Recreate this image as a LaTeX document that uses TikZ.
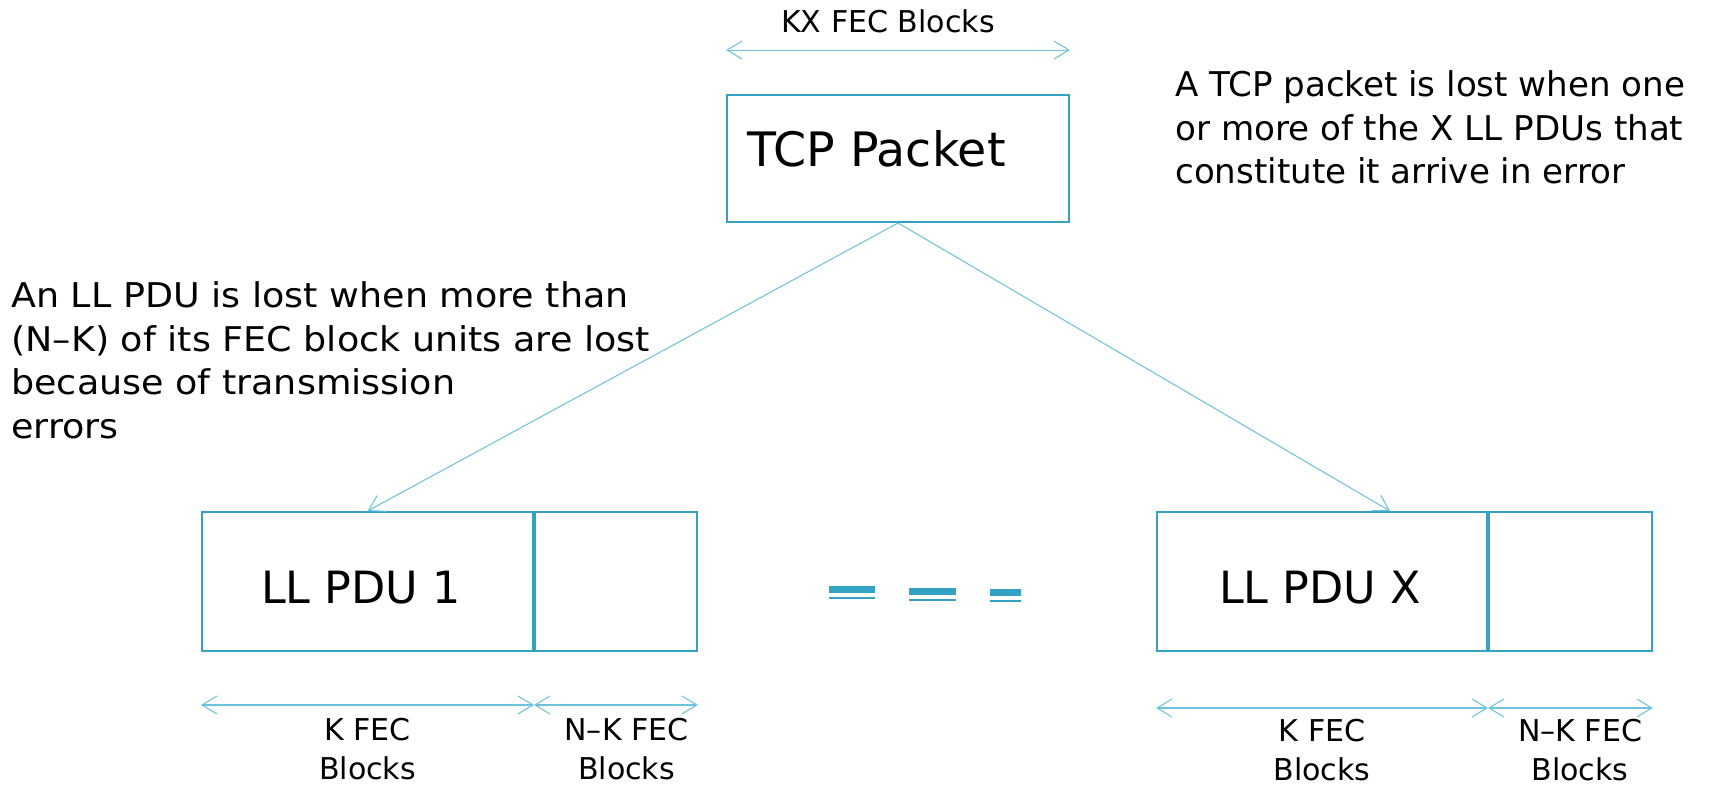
\documentclass[tikz,border=0pt]{standalone}
\usepackage{fontspec}
\setmainfont{DejaVu Sans}
\newfontfamily\widefont[FakeStretch=1.07]{DejaVu Sans}
\usepackage{tikz}
\usetikzlibrary{arrows.meta}
\definecolor{boxblue}{HTML}{34A2C2}
\definecolor{lineblue}{HTML}{6CC3DA}
\tikzset{>={Straight Barb[length=0.3cm,width=0.36cm]}}
\tikzset{pdubox/.style={draw=boxblue, line width=1.1pt, minimum height=2.78cm, inner sep=0pt},
         pdutxt/.style={anchor=base, inner sep=0pt, font=\fontsize{25.3pt}{30pt}\selectfont},
         dimline/.style={<->, draw=lineblue, line width=0.6pt},
         tieline/.style={->, draw=lineblue, line width=0.6pt},
         small/.style={font=\fontsize{17.1pt}{22pt}\selectfont, align=center, inner sep=0pt},
         note/.style={font=\fontsize{19.4pt}{24.9pt}\selectfont, align=left, inner sep=0pt}}

\begin{document}
\begin{tikzpicture}
      \useasboundingbox (0,0) rectangle (34.64,15.72);

      % TCP packet on top
	  \node (tcp) [pdubox, minimum width=6.84cm, minimum height=2.54cm] at (17.96,12.55) {};
	  \node (tcptxt) [anchor=base west, inner sep=0pt, font=\fontsize{27pt}{30pt}\selectfont] at (14.94,12.38) {TCP Packet};
	  \coordinate (kxl) at ([yshift=0.88cm]tcp.north west);
	  \coordinate (kxr) at ([yshift=0.88cm]tcp.north east);
	  \draw[dimline] (kxl) -- (kxr);
	  \node (kxlab) [small, anchor=base] at (17.76,15.06) {KX FEC Blocks};

	  \node (tcpnote) [note, anchor=north west] at (23.5,14.32)
	        {A TCP packet is lost when one\\or more of the X LL PDUs that\\constitute it arrive in error};
	  \node (pdunote) [note, font={\widefont\fontsize{19.4pt}{24.9pt}\selectfont}, anchor=north west] at (0.22,10.10)
	        {An LL PDU is lost when more than\\(N–K) of its FEC block units are lost\\because of transmission\\errors};

      % first LL PDU
	  \node (pdu1) [pdubox, minimum width=6.62cm] at (7.35,4.09) {};
	  \node (pdu1r) [pdubox, minimum width=3.24cm, anchor=west] at (pdu1.east) {};
	  \node (pdu1txt) [pdutxt] at (7.22,3.66) {LL PDU 1};
	  \draw[dimline] ([yshift=-1.06cm]pdu1.south west) -- ([yshift=-1.06cm]pdu1.south east);
	  \draw[dimline] ([yshift=-1.06cm]pdu1r.south west) -- ([yshift=-1.06cm]pdu1r.south east);
	  \node (k1) [small, anchor=north] at (7.35,1.36) {K FEC\\Blocks};
	  \node (nk1) [small, anchor=north] at (12.53,1.36) {N–K FEC\\Blocks};

      % last LL PDU
	  \node (pdux) [pdubox, minimum width=6.60cm] at (26.44,4.09) {};
	  \node (pduxr) [pdubox, minimum width=3.26cm, anchor=west] at (pdux.east) {};
	  \node (pduxtxt) [pdutxt] at (26.40,3.66) {LL PDU X};
	  \draw[dimline] ([yshift=-1.12cm]pdux.south west) -- ([yshift=-1.12cm]pdux.south east);
	  \draw[dimline] ([yshift=-1.12cm]pduxr.south west) -- ([yshift=-1.12cm]pduxr.south east);
	  \node (kx) [small, anchor=north] at (26.44,1.34) {K FEC\\Blocks};
	  \node (nkx) [small, anchor=north] at (31.60,1.34) {N–K FEC\\Blocks};

	  \draw[tieline] (tcp.south) -- (pdu1.north);
	  \draw[tieline] (tcp.south) -- ([xshift=1.36cm]pdux.north);

      % the dots between
	  \fill[boxblue] (16.58,3.86) rectangle (17.50,4.00);
	  \fill[boxblue] (18.18,3.82) rectangle (19.12,3.96);
	  \fill[boxblue] (19.80,3.80) rectangle (20.42,3.94);
	  \draw[boxblue, line width=0.9pt] (16.58,3.76) -- (17.50,3.76);
	  \draw[boxblue, line width=0.9pt] (18.18,3.72) -- (19.12,3.72);
	  \draw[boxblue, line width=0.9pt] (19.80,3.70) -- (20.42,3.70);
    \end{tikzpicture}
\end{document}
